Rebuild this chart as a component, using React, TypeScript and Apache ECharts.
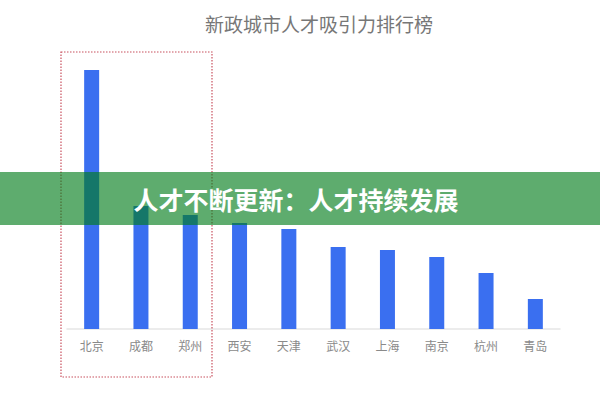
import React, { useEffect, useRef } from "react";
import * as echarts from "echarts";

const cities = ["北京", "成都", "郑州", "西安", "天津", "武汉", "上海", "南京", "杭州", "青岛"];
const values = [259, 123, 114, 106, 100, 82, 79, 72, 56, 30];
const titleText = "新政城市人才吸引力排行榜";
const bannerText = "人才不断更新：人才持续发展";

export default function App() {
  const ref = useRef<HTMLDivElement>(null);
  useEffect(() => {
    if (!ref.current) return;
    const chart = echarts.init(ref.current, null, { renderer: "svg" });
    const font = "'Noto Sans CJK SC', 'Noto Sans', sans-serif";
    chart.setOption({
      animation: false,
      backgroundColor: "#ffffff",
      title: {
        text: titleText,
        left: 314,
        textAlign: "center",
        top: 9,
        textStyle: { color: "#777777", fontSize: 19, fontWeight: "normal", fontFamily: font },
      },
      grid: { left: 67, right: 40, top: 29, bottom: 70, containLabel: false },
      xAxis: {
        type: "category",
        data: cities,
        axisLine: { lineStyle: { color: "#e6e6e6", width: 1.5 } },
        axisTick: { show: false },
        axisLabel: { color: "#8a8a8a", fontSize: 12, margin: 10, fontFamily: font },
      },
      yAxis: {
        type: "value",
        min: 0,
        max: 300,
        show: false,
        splitLine: { show: false },
      },
      series: [
        {
          type: "bar",
          data: values,
          barWidth: 15,
          itemStyle: { color: "#3a6ff0" },
        },
      ],
      graphic: [
        {
          type: "rect",
          z: 50,
          shape: { x: 61, y: 52, width: 151, height: 325 },
          style: { fill: "none", stroke: "#c8505e", lineWidth: 1.2, lineDash: [1.5, 1.5] },
        },
        {
          type: "rect",
          z: 100,
          shape: { x: 0, y: 172, width: 600, height: 53 },
          style: { fill: "rgba(0,124,25,0.63)" },
        },
        {
          type: "text",
          z: 101,
          x: 296,
          y: 199,
          style: {
            text: bannerText,
            fill: "#ffffff",
            fontSize: 25,
            fontWeight: "bold",
            fontFamily: font,
            align: "center",
            verticalAlign: "middle",
          },
        },
      ],
    });
    return () => chart.dispose();
  }, []);
  return <div ref={ref} style={{ width: 600, height: 399, position: "absolute", left: 0, top: 0 }} />;
}
